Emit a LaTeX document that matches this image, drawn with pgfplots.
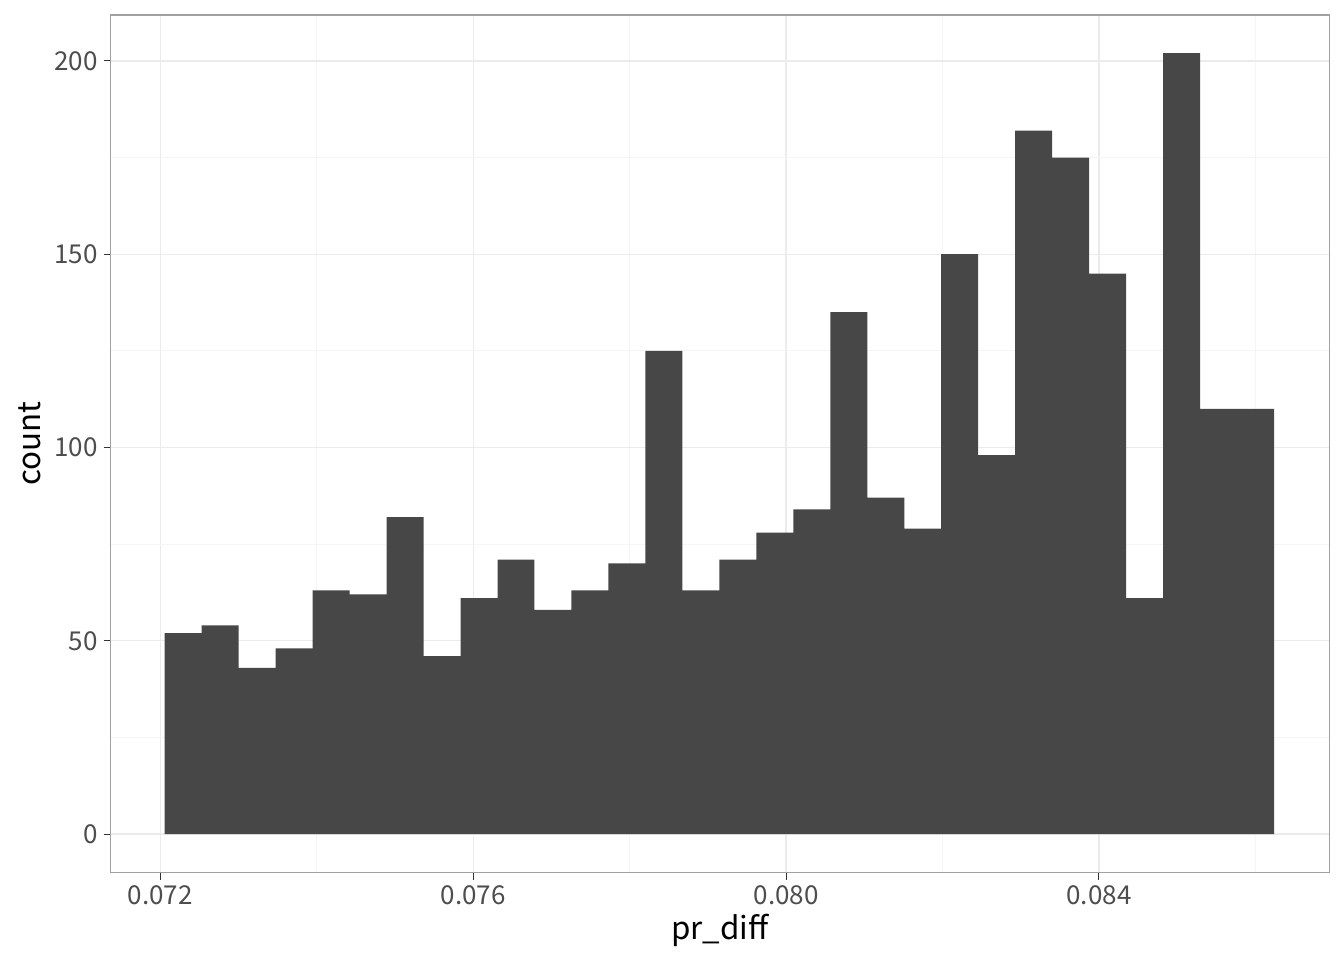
\documentclass[border=0pt]{standalone}
\usepackage{fontspec}
\setmainfont{Noto Sans CJK JP}
\usepackage{pgfplots}
\pgfplotsset{compat=1.18}
\definecolor{barfill}{HTML}{474747}
\definecolor{gridmaj}{HTML}{EBEBEB}
\definecolor{gridmin}{HTML}{F5F5F5}
\definecolor{frame}{HTML}{A0A0A0}
\definecolor{ticklab}{HTML}{4D4D4D}
\definecolor{tickcol}{HTML}{333333}
\begin{document}
\begin{tikzpicture}
\path[use as bounding box] (0,0) rectangle (1008pt,720pt);
\begin{axis}[
  at={(83.03pt,65.48pt)}, anchor=south west,
  scale only axis, width=913.95pt, height=643.28pt,
  xmin=0.071366, xmax=0.086945, ymin=-10.01, ymax=211.9,
  scaled x ticks=false, scaled y ticks=false,
  xtick={0.072,0.076,0.080,0.084},
  xticklabels={0.072,0.076,0.080,0.084},
  minor xtick={0.074,0.078,0.082,0.086},
  ytick={0,50,100,150,200},
  yticklabels={0,50,100,150,200},
  minor ytick={25,75,125,175},
  grid=both,
  major grid style={draw=gridmaj, line width=0.9pt},
  minor grid style={draw=gridmin, line width=0.6pt},
  axis line style={draw=frame, line width=0.8pt},
  tick align=outside,
  major tick length=5.25pt,
  minor tick length=0pt,
  tick style={draw=tickcol, line width=0.75pt},
  xtick pos=bottom, ytick pos=left,
  ticklabel style={font=\fontsize{19.5}{22}\selectfont, text=ticklab},
  xticklabel style={anchor=north, inner sep=0pt, yshift=-4.5pt},
  yticklabel style={anchor=east, inner sep=0pt, xshift=-4.5pt},
  xlabel={pr\_diff}, ylabel={count},
  label style={font=\fontsize{23.5}{27}\selectfont, text=black},
  xlabel style={at={(axis description cs:0.5,-0.0668)}, anchor=center},
  ylabel style={at={(axis description cs:-0.0662,0.5)}, anchor=center, rotate=0},
]
\addplot[ybar interval, fill=barfill, draw=none] coordinates {
(0.0720563,52) (0.0725290,54) (0.0730018,43) (0.0734745,48) (0.0739472,63)
(0.0744200,62) (0.0748927,82) (0.0753654,46) (0.0758381,61) (0.0763109,71)
(0.0767836,58) (0.0772563,63) (0.0777291,70) (0.0782018,125) (0.0786745,63)
(0.0791473,71) (0.0796200,78) (0.0800927,84) (0.0805654,135) (0.0810382,87)
(0.0815109,79) (0.0819836,150) (0.0824564,98) (0.0829291,182) (0.0834018,175)
(0.0838746,145) (0.0843473,61) (0.0848200,202) (0.0852927,110) (0.0857655,110)
(0.0862382,110)
};
\end{axis}
\end{tikzpicture}
\end{document}
